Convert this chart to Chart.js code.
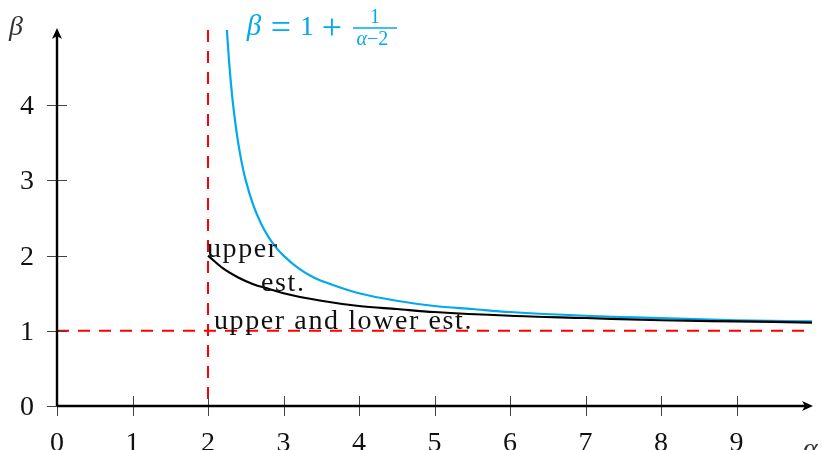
<!DOCTYPE html>
<html>
<head>
<meta charset="utf-8">
<script src="https://cdn.jsdelivr.net/npm/chart.js@4.4.0/dist/chart.umd.min.js"></script>
<style>
  html, body { margin: 0; padding: 0; background: #ffffff; }
  #wrap { width: 822px; height: 450px; position: relative; }
</style>
</head>
<body>
<div id="wrap"><canvas id="c" width="822" height="450"></canvas></div>
<script>
// ---- data ----
const xTicks = [0, 1, 2, 3, 4, 5, 6, 7, 8, 9];
const yTicks = [0, 1, 2, 3, 4];
const xRange = [0, 10];
const yRange = [0, 5];

// upper bound curve (blue)
const blueAlpha = [2.25, 2.28, 2.32, 2.36, 2.4, 2.45, 2.5, 2.6, 2.7, 2.8, 2.9, 3.0, 3.2, 3.4, 3.6, 3.8, 4.0, 4.5, 5.0, 5.5, 6.0, 7.0, 8.0, 9.0, 10.0];
const blueBeta  = [5.0, 4.57, 4.12, 3.78, 3.5, 3.22, 3.0, 2.67, 2.43, 2.25, 2.11, 2.0, 1.83, 1.71, 1.63, 1.56, 1.5, 1.4, 1.33, 1.29, 1.25, 1.2, 1.17, 1.14, 1.125];

// upper estimate curve (black)
const blackAlpha = [2.0, 2.2, 2.4, 2.6, 2.8, 3.0, 3.5, 4.0, 4.5, 5.0, 6.0, 7.0, 8.0, 9.0, 10.0];
const blackBeta  = [2.0, 1.83, 1.71, 1.62, 1.56, 1.5, 1.4, 1.33, 1.29, 1.25, 1.2, 1.17, 1.14, 1.125, 1.11];

// dashed reference lines (red)
const vLineAlpha = [2, 2];
const vLineBeta  = [5, 0];
const hLineAlpha = [0, 10];
const hLineBeta  = [1, 1];

// texts
const yAxisTitle = 'β';
const xAxisTitle = 'α';
const upperLabel = ['upper', 'est.'];
const bothLabel = 'upper and lower est.';

const toPts = (xs, ys) => xs.map((x, i) => ({ x: x, y: ys[i] }));

const SERIF = '"Liberation Serif", "Times New Roman", serif';
const BLUE = '#00AAEC';
const RED = '#FF0000';

const decorations = {
  id: 'decorations',
  afterDatasetsDraw(chart) {
    const ctx = chart.ctx;
    const xs = chart.scales.x, ys = chart.scales.y;
    const X = v => xs.getPixelForValue(v);
    const Y = v => ys.getPixelForValue(v);
    const x0 = X(0), y0 = Y(0);
    const xEnd = X(xRange[1]) + 1, yEnd = Y(yRange[1]) - 2;

    ctx.save();
    // ticks (crossing the axes)
    ctx.strokeStyle = '#444';
    ctx.lineWidth = 1;
    xTicks.forEach(t => {
      const px = Math.round(X(t)) + 0.5;
      ctx.beginPath(); ctx.moveTo(px, y0 - 10); ctx.lineTo(px, y0 + 10); ctx.stroke();
    });
    yTicks.forEach(t => {
      const py = Math.round(Y(t)) + 0.5;
      ctx.beginPath(); ctx.moveTo(x0 - 10, py); ctx.lineTo(x0 + 10, py); ctx.stroke();
    });

    // axes
    ctx.strokeStyle = '#000';
    ctx.fillStyle = '#000';
    ctx.lineWidth = 2.4;
    ctx.beginPath(); ctx.moveTo(x0, y0); ctx.lineTo(xEnd - 4, y0); ctx.stroke();
    ctx.beginPath(); ctx.moveTo(x0, y0); ctx.lineTo(x0, yEnd + 4); ctx.stroke();
    // arrow heads
    ctx.beginPath();
    ctx.moveTo(xEnd, y0);
    ctx.lineTo(xEnd - 11, y0 - 5);
    ctx.lineTo(xEnd - 8, y0);
    ctx.lineTo(xEnd - 11, y0 + 5);
    ctx.closePath(); ctx.fill();
    ctx.beginPath();
    ctx.moveTo(x0, yEnd);
    ctx.lineTo(x0 - 5, yEnd + 11);
    ctx.lineTo(x0, yEnd + 8);
    ctx.lineTo(x0 + 5, yEnd + 11);
    ctx.closePath(); ctx.fill();

    // tick labels
    ctx.fillStyle = '#111';
    ctx.font = '28px ' + SERIF;
    ctx.textAlign = 'center';
    ctx.textBaseline = 'alphabetic';
    xTicks.forEach(t => ctx.fillText(String(t), X(t), 451));
    ctx.textAlign = 'right';
    yTicks.forEach(t => ctx.fillText(String(t), 34, Y(t) + 9));

    // axis titles
    ctx.font = 'italic 28px ' + SERIF;
    ctx.textAlign = 'left';
    ctx.fillStyle = '#333';
    ctx.fillText(yAxisTitle, 9, 35);
    ctx.fillText(xAxisTitle, 803, 457);

    // curve annotations
    ctx.fillStyle = '#111';
    ctx.font = '28px ' + SERIF;
    try { ctx.letterSpacing = '1.6px'; } catch (e) {}
    ctx.textAlign = 'left';
    ctx.fillText(upperLabel[0], 207, 257);
    ctx.fillText(upperLabel[1], 261, 291);
    ctx.fillText(bothLabel, 214, 329);
    try { ctx.letterSpacing = '0px'; } catch (e) {}

    // formula label of blue curve
    ctx.fillStyle = BLUE;
    ctx.strokeStyle = BLUE;
    ctx.textAlign = 'center';
    ctx.font = 'italic 29px ' + SERIF;
    ctx.fillText('β', 254, 35);
    ctx.font = '36px ' + SERIF;
    ctx.fillText('=', 281, 39);
    ctx.fillText('+', 332, 39);
    ctx.font = '28px ' + SERIF;
    ctx.fillText('1', 307, 35);
    ctx.lineWidth = 1.5;
    ctx.beginPath(); ctx.moveTo(353, 28); ctx.lineTo(397, 28); ctx.stroke();
    ctx.font = '20px ' + SERIF;
    ctx.fillText('1', 375, 23);
    ctx.font = 'italic 20px ' + SERIF;
    ctx.textAlign = 'right';
    ctx.fillText('α', 367, 45);
    ctx.font = '20px ' + SERIF;
    ctx.textAlign = 'left';
    ctx.fillText('−2', 367, 45);
    ctx.restore();
  }
};

new Chart(document.getElementById('c'), {
  type: 'scatter',
  data: {
    datasets: [
      { label: 'upper est.', data: toPts(blackAlpha, blackBeta), showLine: true, borderColor: '#000', borderWidth: 2.2, pointRadius: 0, cubicInterpolationMode: 'monotone', order: 0 },
      { label: 'β = 1 + 1/(α−2)', data: toPts(blueAlpha, blueBeta), showLine: true, borderColor: BLUE, borderWidth: 2.2, pointRadius: 0, cubicInterpolationMode: 'monotone', order: 1 },
      { label: 'α = 2', data: toPts(vLineAlpha, vLineBeta), showLine: true, borderColor: RED, borderWidth: 2, borderDash: [12, 9], pointRadius: 0, order: 2 },
      { label: 'β = 1', data: toPts(hLineAlpha, hLineBeta), showLine: true, borderColor: RED, borderWidth: 2, borderDash: [12, 9], pointRadius: 0, order: 2 }
    ]
  },
  options: {
    responsive: false,
    animation: false,
    devicePixelRatio: 1,
    layout: { padding: { left: 57, right: 10, top: 30, bottom: 44 } },
    plugins: { legend: { display: false }, tooltip: { enabled: false } },
    scales: {
      x: { type: 'linear', min: xRange[0], max: xRange[1], display: false },
      y: { type: 'linear', min: yRange[0], max: yRange[1], display: false }
    },
    clip: false
  },
  plugins: [decorations]
});
</script>
</body>
</html>
